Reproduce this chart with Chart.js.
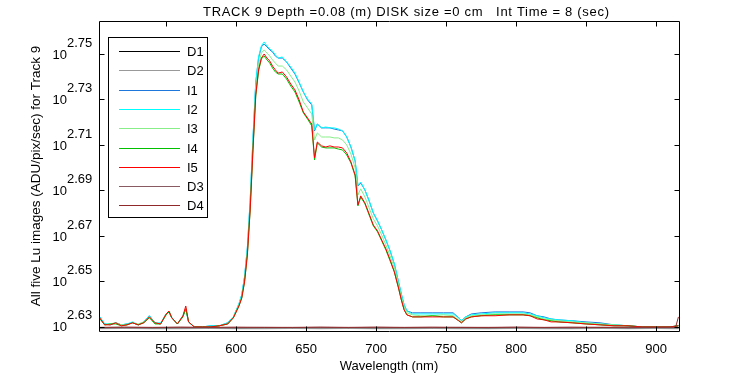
<!DOCTYPE html>
<html>
<head>
<meta charset="utf-8">
<script src="https://cdn.jsdelivr.net/npm/chart.js@4.4.0/dist/chart.umd.min.js"></script>
<style>
  html, body { margin: 0; padding: 0; background: #ffffff; }
  canvas { display: block; }
</style>
</head>
<body>
<canvas id="trackChart" width="750" height="375"></canvas>
<script>
// wavelengths (nm) for the five illuminated images
const wavelengths = [
  502, 506, 510, 514, 518, 522, 526, 530, 534, 538, 542, 546, 550, 552, 554, 558, 562, 564, 566, 570,
  576, 582, 588, 594, 598, 602, 604, 606, 608, 610, 612, 614, 616, 618, 620, 622, 624, 626, 628, 630,
  633, 636, 639, 642, 645, 648, 651, 654, 656, 658, 661, 664, 667, 670, 673, 676, 679, 682, 685, 687,
  689, 692, 695, 698, 701, 704, 707, 710, 713, 716, 718, 720, 722, 726, 732, 740, 748, 755, 759, 761,
  764, 768, 775, 785, 795, 805, 810, 815, 820, 825, 830, 840, 850, 860, 870, 880, 890, 900, 910, 916
];

// log10 of Lu (ADU/pix/sec)
const i1Exp = [
  2.6349, 2.6313, 2.6309, 2.6318, 2.6309, 2.6313, 2.6318, 2.6309, 2.6322, 2.6349, 2.6318, 2.6313, 2.6357, 2.6366, 2.6340, 2.6313, 2.6349, 2.6379, 2.6322, 2.6300,
  2.6300, 2.6305, 2.6305, 2.6318, 2.6344, 2.6401, 2.6441, 2.6520, 2.6647, 2.6854, 2.7126, 2.7373, 2.7482, 2.7531, 2.7544, 2.7531, 2.7518, 2.7509, 2.7491, 2.7482,
  2.7482, 2.7465, 2.7438, 2.7412, 2.7373, 2.7333, 2.7298, 2.7276, 2.7162, 2.7192, 2.7175, 2.7175, 2.7175, 2.7170, 2.7166, 2.7162, 2.7135, 2.7091, 2.7030, 2.6920,
  2.6933, 2.6902, 2.6854, 2.6801, 2.6766, 2.6726, 2.6682, 2.6634, 2.6577, 2.6498, 2.6445, 2.6397, 2.6370, 2.6362, 2.6362, 2.6362, 2.6362, 2.6362, 2.6340, 2.6327,
  2.6344, 2.6357, 2.6362, 2.6366, 2.6366, 2.6366, 2.6362, 2.6349, 2.6344, 2.6335, 2.6331, 2.6327, 2.6322, 2.6318, 2.6309, 2.6305, 2.6300, 2.6300, 2.6300, 2.6305
];
const i2Exp = [
  2.6349, 2.6313, 2.6313, 2.6318, 2.6309, 2.6313, 2.6322, 2.6309, 2.6322, 2.6349, 2.6318, 2.6318, 2.6357, 2.6370, 2.6340, 2.6313, 2.6349, 2.6384, 2.6322, 2.6300,
  2.6300, 2.6305, 2.6305, 2.6318, 2.6344, 2.6401, 2.6441, 2.6520, 2.6647, 2.6858, 2.7131, 2.7377, 2.7487, 2.7535, 2.7553, 2.7535, 2.7522, 2.7513, 2.7496, 2.7482,
  2.7487, 2.7465, 2.7443, 2.7416, 2.7377, 2.7333, 2.7302, 2.7280, 2.7166, 2.7192, 2.7175, 2.7179, 2.7175, 2.7175, 2.7170, 2.7162, 2.7135, 2.7091, 2.7030, 2.6924,
  2.6937, 2.6902, 2.6854, 2.6801, 2.6766, 2.6726, 2.6682, 2.6634, 2.6577, 2.6498, 2.6445, 2.6397, 2.6370, 2.6357, 2.6357, 2.6357, 2.6357, 2.6357, 2.6340, 2.6327,
  2.6344, 2.6353, 2.6357, 2.6362, 2.6362, 2.6362, 2.6357, 2.6349, 2.6340, 2.6335, 2.6331, 2.6327, 2.6318, 2.6313, 2.6309, 2.6305, 2.6300, 2.6300, 2.6300, 2.6305
];
const i3Exp = [
  2.6344, 2.6309, 2.6313, 2.6318, 2.6309, 2.6309, 2.6318, 2.6313, 2.6322, 2.6344, 2.6318, 2.6313, 2.6357, 2.6370, 2.6340, 2.6313, 2.6349, 2.6384, 2.6322, 2.6300,
  2.6300, 2.6300, 2.6305, 2.6313, 2.6344, 2.6397, 2.6432, 2.6507, 2.6630, 2.6832, 2.7100, 2.7342, 2.7452, 2.7504, 2.7518, 2.7504, 2.7491, 2.7474, 2.7460, 2.7447,
  2.7447, 2.7430, 2.7403, 2.7377, 2.7337, 2.7289, 2.7263, 2.7236, 2.7122, 2.7153, 2.7135, 2.7135, 2.7135, 2.7131, 2.7131, 2.7122, 2.7100, 2.7060, 2.6999, 2.6880,
  2.6907, 2.6871, 2.6823, 2.6775, 2.6744, 2.6704, 2.6660, 2.6612, 2.6559, 2.6485, 2.6432, 2.6388, 2.6362, 2.6353, 2.6349, 2.6349, 2.6353, 2.6349, 2.6331, 2.6322,
  2.6340, 2.6349, 2.6353, 2.6357, 2.6357, 2.6357, 2.6353, 2.6344, 2.6335, 2.6331, 2.6327, 2.6322, 2.6318, 2.6313, 2.6309, 2.6305, 2.6300, 2.6300, 2.6300, 2.6305
];
const i4Exp = [
  2.6340, 2.6309, 2.6313, 2.6313, 2.6305, 2.6309, 2.6318, 2.6309, 2.6318, 2.6340, 2.6313, 2.6313, 2.6353, 2.6366, 2.6340, 2.6313, 2.6344, 2.6379, 2.6322, 2.6300,
  2.6300, 2.6300, 2.6305, 2.6313, 2.6340, 2.6392, 2.6427, 2.6498, 2.6616, 2.6814, 2.7078, 2.7315, 2.7425, 2.7478, 2.7491, 2.7474, 2.7460, 2.7438, 2.7421, 2.7412,
  2.7412, 2.7390, 2.7359, 2.7333, 2.7289, 2.7241, 2.7214, 2.7184, 2.7034, 2.7109, 2.7091, 2.7087, 2.7087, 2.7087, 2.7082, 2.7078, 2.7056, 2.7021, 2.6964, 2.6832,
  2.6871, 2.6841, 2.6792, 2.6744, 2.6718, 2.6678, 2.6638, 2.6590, 2.6542, 2.6471, 2.6419, 2.6375, 2.6353, 2.6344, 2.6344, 2.6349, 2.6344, 2.6344, 2.6327, 2.6318,
  2.6335, 2.6344, 2.6349, 2.6353, 2.6353, 2.6353, 2.6349, 2.6340, 2.6331, 2.6327, 2.6322, 2.6318, 2.6313, 2.6309, 2.6305, 2.6305, 2.6300, 2.6300, 2.6300, 2.6305
];
const i5Exp = [
  2.6344, 2.6309, 2.6309, 2.6318, 2.6305, 2.6309, 2.6318, 2.6309, 2.6318, 2.6344, 2.6318, 2.6313, 2.6357, 2.6370, 2.6340, 2.6313, 2.6349, 2.6392, 2.6322, 2.6300,
  2.6300, 2.6300, 2.6305, 2.6313, 2.6340, 2.6392, 2.6427, 2.6498, 2.6616, 2.6814, 2.7078, 2.7320, 2.7430, 2.7482, 2.7500, 2.7482, 2.7469, 2.7447, 2.7430, 2.7416,
  2.7421, 2.7399, 2.7368, 2.7342, 2.7298, 2.7245, 2.7219, 2.7192, 2.7043, 2.7113, 2.7096, 2.7091, 2.7096, 2.7091, 2.7091, 2.7087, 2.7065, 2.7025, 2.6968, 2.6836,
  2.6876, 2.6845, 2.6797, 2.6748, 2.6722, 2.6682, 2.6643, 2.6595, 2.6542, 2.6471, 2.6419, 2.6375, 2.6353, 2.6344, 2.6344, 2.6344, 2.6344, 2.6344, 2.6327, 2.6318,
  2.6335, 2.6344, 2.6349, 2.6349, 2.6353, 2.6353, 2.6349, 2.6335, 2.6331, 2.6322, 2.6322, 2.6318, 2.6313, 2.6309, 2.6305, 2.6305, 2.6300, 2.6300, 2.6300, 2.6305
];

// dark images, coarser sampling
const darkWavelengths = [502, 520, 540, 560, 580, 600, 620, 640, 660, 680, 700, 720, 740, 760, 780, 800, 820, 840, 860, 880, 900, 914, 916];
const d1Exp = [2.6294, 2.6295, 2.6294, 2.6295, 2.6294, 2.6294, 2.6295, 2.6294, 2.6295, 2.6294, 2.6294, 2.6295, 2.6294, 2.6295, 2.6294, 2.6294, 2.6295, 2.6294, 2.6295, 2.6294, 2.6294, 2.6295, 2.6294];
const d2Exp = [2.6292, 2.6293, 2.6292, 2.6292, 2.6293, 2.6292, 2.6292, 2.6293, 2.6292, 2.6293, 2.6292, 2.6292, 2.6293, 2.6292, 2.6292, 2.6293, 2.6292, 2.6292, 2.6293, 2.6292, 2.6293, 2.6292, 2.6292];
const d3Exp = [2.6297, 2.6298, 2.6297, 2.6298, 2.6297, 2.6297, 2.6298, 2.6297, 2.6298, 2.6297, 2.6298, 2.6297, 2.6297, 2.6298, 2.6297, 2.6298, 2.6297, 2.6297, 2.6298, 2.6297, 2.6298, 2.6298, 2.6297];
const d4Exp = [2.6298, 2.6299, 2.6298, 2.6299, 2.6298, 2.6299, 2.6298, 2.6298, 2.6299, 2.6298, 2.6299, 2.6298, 2.6299, 2.6298, 2.6298, 2.6299, 2.6298, 2.6299, 2.6298, 2.6299, 2.6298, 2.6299, 2.6344];

const xTicks = [550, 600, 650, 700, 750, 800, 850, 900];
const yTickExps = [2.63, 2.65, 2.67, 2.69, 2.71, 2.73, 2.75];
const xRange = [502, 916.4];
const yExpRange = [2.6282, 2.7645];

const seriesNames = ['D1', 'D2', 'I1', 'I2', 'I3', 'I4', 'I5', 'D3', 'D4'];
const seriesColors = ['#000000', '#999999', '#1e78dc', '#00ffff', '#88ee88', '#00c000', '#ff0000', '#8a5a62', '#902a2a'];

const FONT = "'Liberation Sans', Arial, Helvetica, sans-serif";
const titleText = 'TRACK 9 Depth =0.08 (m) DISK size =0 cm   Int Time = 8 (sec)';

const toPoints = (xs, exps) => xs.map((x, i) => ({ x: x, y: Math.pow(10, exps[i]) }));

const seriesData = [
  toPoints(darkWavelengths, d1Exp),
  toPoints(darkWavelengths, d2Exp),
  toPoints(wavelengths, i1Exp),
  toPoints(wavelengths, i2Exp),
  toPoints(wavelengths, i3Exp),
  toPoints(wavelengths, i4Exp),
  toPoints(wavelengths, i5Exp),
  toPoints(darkWavelengths, d3Exp),
  toPoints(darkWavelengths, d4Exp)
];

// matlab style frame, inward ticks, 10^x labels, title and boxed legend
const matlabFrame = {
  id: 'matlabFrame',
  afterDraw(chart) {
    const ctx = chart.ctx;
    const area = chart.chartArea;
    const xs = chart.scales.x;
    const ys = chart.scales.y;
    const L = area.left + 0.5, R = area.right + 0.5, T = area.top + 0.5, B = area.bottom + 0.5;
    ctx.save();
    ctx.strokeStyle = '#000000';
    ctx.lineWidth = 1;
    ctx.beginPath();
    ctx.rect(L, T, R - L, B - T);
    xTicks.forEach(v => {
      const px = Math.round(xs.getPixelForValue(v)) + 0.5;
      ctx.moveTo(px, B); ctx.lineTo(px, B - 5);
      ctx.moveTo(px, T); ctx.lineTo(px, T + 5);
    });
    yTickExps.forEach(e => {
      const py = Math.round(ys.getPixelForValue(Math.pow(10, e))) + 0.5;
      ctx.moveTo(L, py); ctx.lineTo(L + 5, py);
      ctx.moveTo(R, py); ctx.lineTo(R - 5, py);
    });
    ctx.stroke();

    // y tick labels
    ctx.fillStyle = '#000000';
    ctx.font = '13px ' + FONT;
    ctx.textBaseline = 'middle';
    yTickExps.forEach(e => {
      const py = ys.getPixelForValue(Math.pow(10, e));
      ctx.textAlign = 'right';
      ctx.fillText('10', 67, py + 1);
      ctx.textAlign = 'left';
      ctx.fillText(e.toFixed(2), 67, py - 11);
    });

    // title
    ctx.save();
    ctx.textAlign = 'left';
    ctx.letterSpacing = '0.7px';
    ctx.fillText(titleText, 203, 12);
    ctx.restore();

    // legend
    const box = { x: 108.5, y: 37.5, w: 99, h: 180 };
    ctx.fillStyle = '#ffffff';
    ctx.fillRect(box.x, box.y, box.w, box.h);
    ctx.strokeRect(box.x, box.y, box.w, box.h);
    ctx.textAlign = 'left';
    chart.data.datasets.forEach((ds, i) => {
      const ry = Math.round(51 + i * 19.3) + 0.5;
      ctx.strokeStyle = ds.borderColor;
      ctx.beginPath();
      ctx.moveTo(119, ry);
      ctx.lineTo(180, ry);
      ctx.stroke();
      ctx.fillStyle = '#000000';
      ctx.fillText(ds.label, 187, ry + 1);
    });
    ctx.restore();
  }
};

const ctx = document.getElementById('trackChart');
const chart = new Chart(ctx, {
  type: 'line',
  data: {
    datasets: seriesNames.map((name, i) => ({
      label: name,
      data: seriesData[i],
      borderColor: seriesColors[i],
      backgroundColor: seriesColors[i],
      borderWidth: 1,
      pointRadius: 0,
      tension: 0,
      fill: false,
      order: seriesNames.length - i
    }))
  },
  options: {
    responsive: false,
    animation: false,
    events: [],
    layout: { padding: { top: 21, right: 71, left: 0, bottom: 0 } },
    plugins: {
      legend: { display: false },
      title: { display: false },
      tooltip: { enabled: false }
    },
    scales: {
      x: {
        type: 'linear',
        min: xRange[0],
        max: xRange[1],
        border: { display: false },
        grid: { display: false, drawTicks: false },
        afterBuildTicks: scale => { scale.ticks = xTicks.map(v => ({ value: v })); },
        afterFit: scale => { scale.height = 44; },
        ticks: {
          color: '#000000',
          padding: 11,
          maxRotation: 0,
          font: { family: FONT, size: 13 }
        },
        title: {
          display: true,
          text: 'Wavelength (nm)',
          color: '#000000',
          padding: { top: 0, bottom: 1 },
          font: { family: FONT, size: 13 }
        }
      },
      y: {
        type: 'logarithmic',
        min: Math.pow(10, yExpRange[0]),
        max: Math.pow(10, yExpRange[1]),
        border: { display: false },
        grid: { display: false, drawTicks: false },
        afterBuildTicks: scale => { scale.ticks = yTickExps.map(e => ({ value: Math.pow(10, e) })); },
        afterFit: scale => { scale.width = 99; },
        ticks: { display: false },
        title: {
          display: true,
          text: 'All five Lu images (ADU/pix/sec) for Track 9',
          color: '#000000',
          padding: { top: 28, bottom: 0 },
          font: { family: FONT, size: 13.5 }
        }
      }
    }
  },
  plugins: [matlabFrame]
});
</script>
</body>
</html>
